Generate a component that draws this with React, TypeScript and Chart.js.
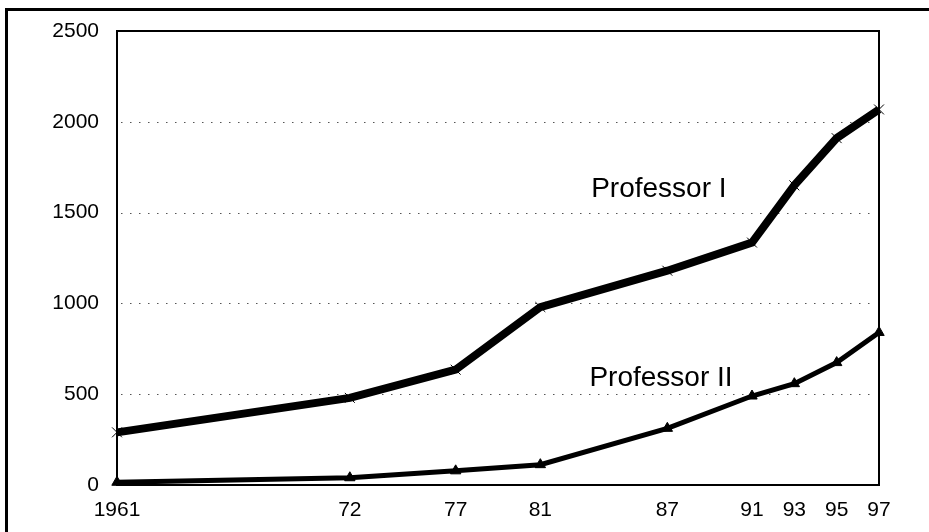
import React, { useEffect, useRef } from "react";
import { Chart, registerables } from "chart.js";

Chart.register(...registerables);

const years = [1961, 1972, 1977, 1981, 1987, 1991, 1993, 1995, 1997];
const professorI = [290, 480, 635, 980, 1180, 1335, 1650, 1910, 2068];
const professorII = [15, 40, 78, 112, 312, 490, 558, 674, 840];
const yTicks = [0, 500, 1000, 1500, 2000, 2500];
const seriesLabels = ["Professor I", "Professor II"];
const labelAnchors = [
  { x: 1986.6, y: 1630 },
  { x: 1986.7, y: 590 },
];

const FONT = "'Liberation Sans', Arial, Helvetica, sans-serif";

const decorPlugin = {
  id: "decor",
  beforeDatasetsDraw(chart: any) {
    const { ctx, chartArea, scales } = chart;
    const y = scales.y;
    ctx.save();
    ctx.strokeStyle = "#555";
    ctx.lineWidth = 1;
    ctx.setLineDash([1.5, 7.5]);
    y.ticks.forEach((t: any) => {
      if (t.value === y.min || t.value === y.max) return;
      const py = Math.round(y.getPixelForValue(t.value)) + 0.5;
      ctx.beginPath();
      ctx.moveTo(chartArea.left + 4, py);
      ctx.lineTo(chartArea.right - 4, py);
      ctx.stroke();
    });
    ctx.setLineDash([]);
    ctx.strokeStyle = "#000";
    ctx.lineWidth = 2;
    ctx.strokeRect(
      chartArea.left,
      chartArea.top,
      chartArea.right - chartArea.left,
      chartArea.bottom - chartArea.top
    );
    ctx.restore();
  },
  afterDatasetsDraw(chart: any) {
    const { ctx, scales } = chart;
    ctx.save();
    ctx.fillStyle = "#000";
    ctx.font = `28px ${FONT}`;
    ctx.textAlign = "center";
    ctx.textBaseline = "middle";
    seriesLabels.forEach((lbl, i) => {
      const a = labelAnchors[i];
      ctx.fillText(lbl, scales.x.getPixelForValue(a.x), scales.y.getPixelForValue(a.y));
    });
    ctx.restore();
  },
};

export default function App() {
  const ref = useRef<HTMLCanvasElement | null>(null);
  useEffect(() => {
    if (!ref.current) return;
    const chart = new Chart(ref.current, {
      type: "line",
      data: {
        datasets: [
          {
            label: seriesLabels[0],
            data: years.map((yr, i) => ({ x: yr, y: professorI[i] })),
            borderColor: "#000",
            backgroundColor: "#000",
            borderWidth: 8,
            pointStyle: "crossRot",
            pointRadius: 7,
            pointBorderWidth: 1,
            pointBorderColor: "#000",
            tension: 0,
            clip: false,
          },
          {
            label: seriesLabels[1],
            data: years.map((yr, i) => ({ x: yr, y: professorII[i] })),
            borderColor: "#000",
            backgroundColor: "#000",
            borderWidth: 5,
            pointStyle: "triangle",
            pointRadius: 6,
            pointBorderWidth: 1,
            pointBackgroundColor: "#000",
            pointBorderColor: "#000",
            tension: 0,
            clip: false,
          },
        ] as any,
      },
      options: {
        animation: false,
        responsive: false,
        layout: { padding: { left: 10, top: 31, right: 50, bottom: 0 } },
        plugins: { legend: { display: false }, tooltip: { enabled: false } },
        scales: {
          x: {
            type: "linear",
            min: 1961,
            max: 1997,
            afterBuildTicks: (s: any) => {
              s.ticks = years.map((v) => ({ value: v }));
            },
            afterFit: (s: any) => {
              s.height = 47;
            },
            grid: { display: false, drawTicks: false },
            border: { display: false },
            ticks: {
              autoSkip: false,
              maxRotation: 0,
              padding: 13,
              color: "#000",
              font: { family: FONT, size: 21 },
              callback: (v: any) => (v === 1961 ? "1961" : String(Number(v) % 100)),
            },
          },
          y: {
            min: 0,
            max: 2500,
            afterBuildTicks: (s: any) => {
              s.ticks = yTicks.map((v) => ({ value: v }));
            },
            afterFit: (s: any) => {
              s.width = 107;
            },
            grid: { display: false, drawTicks: false },
            border: { display: false },
            ticks: {
              padding: 18,
              color: "#000",
              font: { family: FONT, size: 21 },
              callback: (v: any) => String(v),
            },
          },
        },
      },
      plugins: [decorPlugin],
    });
    return () => chart.destroy();
  }, []);

  return (
    <div
      style={{
        position: "fixed",
        left: 0,
        top: 0,
        width: 929,
        height: 532,
        background: "#fff",
        overflow: "hidden",
      }}
    >
      <div
        style={{
          position: "absolute",
          left: 5,
          top: 8,
          width: 940,
          height: 540,
          borderTop: "3px solid #000",
          borderLeft: "3px solid #000",
        }}
      />
      <canvas
        ref={ref}
        width={929}
        height={532}
        style={{ position: "absolute", left: 0, top: 0, width: 929, height: 532 }}
      />
    </div>
  );
}
